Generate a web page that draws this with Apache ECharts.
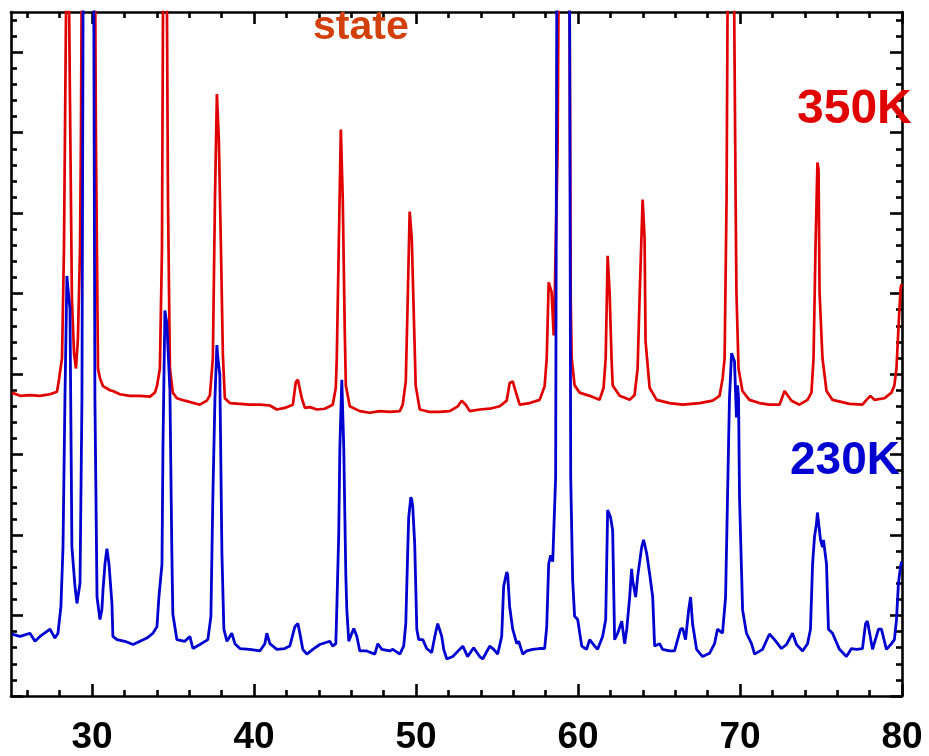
<!DOCTYPE html>
<html>
<head>
<meta charset="utf-8">
<script src="https://cdn.jsdelivr.net/npm/echarts@6/dist/echarts.min.js"></script>
<style>
html,body{margin:0;padding:0;background:#fff;}
#chart{width:929px;height:756px;}
</style>
</head>
<body>
<div id="chart"></div>
<script>
// 2-theta (deg) , intensity (a.u.)
const red350 = [[25.06,377],[25.56,373],[26.17,374],[26.79,373],[27.41,375],[27.84,378],[27.96,393],[28.15,420],[28.27,556],[28.49,1070],[28.64,741],[28.76,494],[28.89,426],[29.01,407],[29.13,444],[29.26,556],[29.32,700],[29.78,2600],[30.24,700],[30.37,407],[30.49,395],[30.68,385],[31.11,380],[31.29,379],[31.72,375],[32.34,373],[32.96,373],[33.58,372],[33.88,377],[34.01,385],[34.19,407],[34.32,556],[34.49,1370],[34.69,617],[34.81,407],[34.99,377],[35.24,370],[35.73,367],[36.66,362],[37.09,367],[37.28,374],[37.46,420],[37.59,617],[37.71,748],[37.83,691],[37.96,556],[38.08,423],[38.20,370],[38.51,364],[39.13,363],[39.74,362],[40.36,362],[40.98,361],[41.41,356],[41.90,358],[42.40,362],[42.58,390],[42.71,393],[42.95,370],[43.14,358],[43.45,359],[43.88,356],[44.37,357],[44.86,362],[45.05,383],[45.11,420],[45.23,556],[45.36,704],[45.48,617],[45.60,457],[45.67,386],[45.91,360],[46.53,354],[47.15,352],[47.76,354],[48.38,353],[49.00,354],[49.18,362],[49.37,391],[49.49,494],[49.61,602],[49.74,568],[49.80,522],[49.92,432],[49.98,386],[50.23,356],[50.85,353],[51.47,353],[52.08,354],[52.58,360],[52.82,367],[53.07,362],[53.32,354],[53.93,356],[54.55,357],[55.17,360],[55.60,367],[55.78,389],[55.97,391],[56.22,374],[56.40,362],[57.02,364],[57.63,368],[57.94,385],[58.07,420],[58.19,514],[58.37,502],[58.50,448],[58.56,494],[58.74,679],[58.99,1500],[59.24,2200],[59.42,1200],[59.55,494],[59.61,420],[59.79,386],[60.10,377],[60.72,373],[61.33,368],[61.58,383],[61.71,420],[61.83,547],[61.95,502],[62.07,420],[62.14,386],[62.57,373],[63.19,368],[63.49,374],[63.68,407],[63.80,494],[63.99,617],[64.11,568],[64.17,441],[64.42,383],[64.85,368],[65.65,364],[66.46,362],[67.51,364],[68.31,367],[68.74,373],[68.93,395],[69.05,420],[69.17,617],[69.40,1500],[69.73,617],[69.78,502],[69.91,407],[70.15,379],[70.58,368],[71.20,364],[71.82,362],[72.44,362],[72.75,379],[72.87,379],[73.18,367],[73.67,362],[74.17,368],[74.41,377],[74.54,420],[74.66,556],[74.78,663],[74.85,654],[74.91,502],[75.09,420],[75.34,379],[75.71,368],[76.76,363],[77.56,362],[77.81,368],[78.05,373],[78.30,368],[78.92,370],[79.35,377],[79.53,386],[79.66,407],[79.78,457],[79.91,506],[79.97,512]];

const blue230 = [[25.06,77],[25.56,74],[26.17,78],[26.48,68],[26.79,74],[27.41,83],[27.71,72],[27.90,78],[28.08,111],[28.21,185],[28.33,370],[28.45,522],[28.52,506],[28.64,481],[28.76,185],[28.95,136],[29.07,115],[29.26,140],[29.38,370],[29.50,1200],[29.78,3000],[30.06,1200],[30.18,370],[30.31,123],[30.49,95],[30.61,107],[30.68,132],[30.80,164],[30.92,183],[31.05,164],[31.23,115],[31.29,74],[31.54,70],[32.03,68],[32.53,64],[32.96,68],[33.39,72],[33.76,78],[34.01,86],[34.13,123],[34.32,164],[34.38,309],[34.50,479],[34.62,463],[34.81,379],[34.93,177],[34.99,102],[35.24,70],[35.73,68],[36.04,74],[36.23,59],[36.66,64],[37.15,70],[37.34,99],[37.46,247],[37.59,370],[37.71,436],[37.77,420],[37.89,399],[38.02,177],[38.14,83],[38.33,68],[38.63,78],[38.82,65],[39.13,59],[39.74,58],[40.36,56],[40.67,65],[40.79,78],[40.98,65],[41.41,58],[41.90,59],[42.21,62],[42.52,86],[42.71,90],[42.83,78],[43.01,58],[43.26,52],[43.63,58],[44.06,64],[44.68,68],[44.86,62],[45.05,65],[45.11,107],[45.23,201],[45.30,309],[45.42,393],[45.54,309],[45.67,148],[45.73,107],[45.85,68],[46.04,78],[46.16,84],[46.35,74],[46.53,56],[46.96,56],[47.46,52],[47.64,65],[47.89,58],[48.38,56],[48.57,58],[49.00,52],[49.24,62],[49.37,90],[49.49,181],[49.55,222],[49.68,247],[49.74,244],[49.80,235],[49.92,189],[50.05,83],[50.17,70],[50.42,70],[50.66,59],[50.97,54],[51.16,74],[51.34,90],[51.59,74],[51.71,58],[51.90,46],[52.27,49],[52.89,62],[53.19,49],[53.56,60],[53.93,49],[54.12,46],[54.55,62],[54.80,58],[55.04,52],[55.29,74],[55.41,136],[55.60,154],[55.66,151],[55.78,111],[55.97,83],[56.22,65],[56.34,68],[56.59,52],[56.83,56],[57.20,58],[57.63,59],[57.94,59],[58.07,86],[58.19,164],[58.31,175],[58.44,167],[58.62,272],[58.74,1300],[59.09,3000],[59.43,1300],[59.55,272],[59.67,144],[59.79,99],[59.98,95],[60.23,62],[60.53,58],[60.72,70],[61.03,62],[61.21,58],[61.52,74],[61.71,95],[61.83,231],[61.95,232],[62.01,222],[62.14,206],[62.26,70],[62.45,78],[62.70,93],[62.88,65],[63.01,83],[63.19,123],[63.31,158],[63.37,144],[63.56,123],[63.68,148],[63.93,185],[64.05,194],[64.24,177],[64.42,152],[64.61,123],[64.73,62],[65.04,65],[65.22,58],[65.65,56],[65.96,56],[66.15,70],[66.33,83],[66.46,84],[66.64,70],[66.83,107],[66.95,123],[67.07,90],[67.32,58],[67.69,49],[68.12,53],[68.43,65],[68.61,83],[68.92,78],[69.11,123],[69.23,247],[69.35,370],[69.48,426],[69.66,416],[69.78,346],[69.85,386],[69.91,370],[69.97,247],[70.16,107],[70.40,78],[70.71,65],[70.90,52],[71.39,58],[71.82,77],[72.13,70],[72.56,59],[72.87,64],[73.24,78],[73.49,64],[73.86,56],[74.17,65],[74.35,83],[74.48,164],[74.60,198],[74.72,214],[74.78,228],[74.97,194],[75.09,185],[75.15,194],[75.34,164],[75.46,83],[75.71,78],[76.14,58],[76.57,49],[76.88,59],[77.19,58],[77.56,59],[77.75,90],[77.87,93],[78.18,58],[78.55,83],[78.73,83],[79.04,58],[79.35,65],[79.53,70],[79.66,95],[79.78,140],[79.91,161],[79.97,167]];

const xMajorTicks = [30,40,50,60,70,80];
const xMinorTicks = [26,28,32,34,36,38,42,44,46,48,52,54,56,58,62,64,66,68,72,74,76,78];
const yMajorTicks = [0,100,200,300,400,500,600,700,800];
const yMinorTicks = [20,40,60,80,120,140,160,180,220,240,260,280,320,340,360,380,420,440,460,480,520,540,560,580,620,640,660,680,720,740,760,780,820,840];
const seriesNames = ['350K','230K'];

const FONT = '"Liberation Sans", Arial, sans-serif';
const X_MIN = 25, X_MAX = 80, Y_MIN = 0, Y_MAX = 850;

function xAx(position, ticks, len, showLine, showLabel){
  return {
    type:'value', min:X_MIN, max:X_MAX, position:position,
    axisLine:{show:showLine, onZero:false, lineStyle:{color:'#000', width:2.6}},
    axisTick:{show:true, inside:true, length:len, customValues:ticks, lineStyle:{color:'#000', width:2.6}},
    axisLabel:{show:showLabel, customValues:ticks, fontSize:37, fontWeight:'bold', color:'#000', fontFamily:FONT, margin:23},
    splitLine:{show:false}
  };
}
function yAx(position, ticks, len, showLine){
  return {
    type:'value', min:Y_MIN, max:Y_MAX, position:position,
    axisLine:{show:showLine, onZero:false, lineStyle:{color:'#000', width:2.6}},
    axisTick:{show:true, inside:true, length:len, customValues:ticks, lineStyle:{color:'#000', width:2.6}},
    axisLabel:{show:false},
    splitLine:{show:false}
  };
}

const chart = echarts.init(document.getElementById('chart'), null, {renderer:'canvas'});
chart.setOption({
  animation:false,
  backgroundColor:'#fff',
  grid:{left:11, right:27, top:12, bottom:56, containLabel:false},
  xAxis:[
    xAx('bottom', xMajorTicks, 12, true, true),
    xAx('bottom', xMinorTicks, 6, false, false),
    xAx('top', xMajorTicks, 12, true, false),
    xAx('top', xMinorTicks, 6, false, false)
  ],
  yAxis:[
    yAx('left', yMajorTicks, 12, true),
    yAx('left', yMinorTicks, 6, false),
    yAx('right', yMajorTicks, 12, true),
    yAx('right', yMinorTicks, 6, false)
  ],
  series:[
    {name:seriesNames[0], type:'line', data:red350, xAxisIndex:0, yAxisIndex:0, showSymbol:false, symbol:'none', clip:true,
     lineStyle:{color:'#e00000', width:2.7}, z:2},
    {name:seriesNames[1], type:'line', data:blue230, xAxisIndex:0, yAxisIndex:0, showSymbol:false, symbol:'none', clip:true,
     lineStyle:{color:'#0000d0', width:2.8}, z:3}
  ],
  graphic:[
    {type:'text', left:797, top:86, z:100, style:{text:seriesNames[0], font:'bold 48px ' + FONT, fill:'#e00000'}},
    {type:'text', left:790, top:438, z:100, style:{text:seriesNames[1], font:'bold 46px ' + FONT, fill:'#0000d0'}},
    {type:'text', left:313, top:7, z:100, style:{text:'state', font:'bold 41px ' + FONT, fill:'#d2400c'}}
  ]
});
</script>
</body>
</html>
